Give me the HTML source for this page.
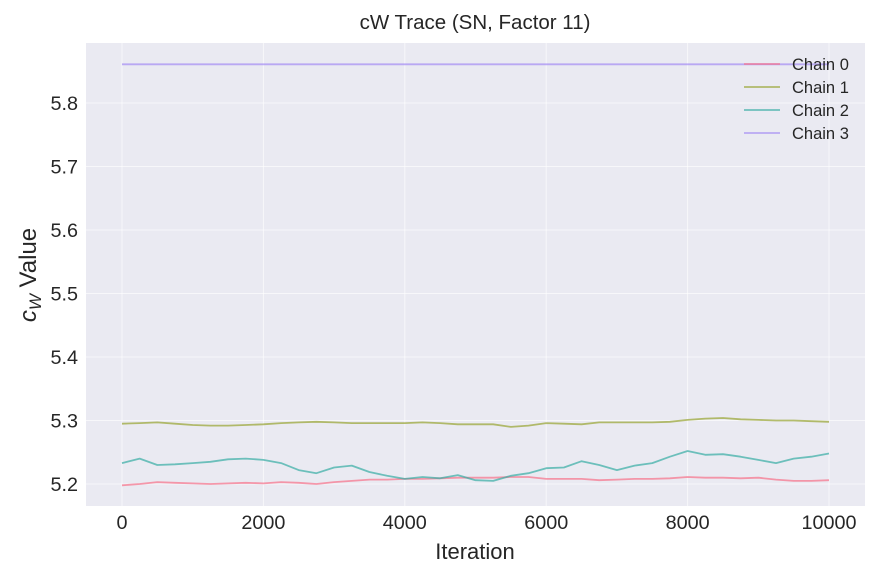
<!DOCTYPE html>
<html><head><meta charset="utf-8"><style>
body{margin:0;background:#fff;}
svg text{font-family:"Liberation Sans",sans-serif;fill:#262626;}
</style></head><body>
<svg id="chart" width="879" height="579" xmlns="http://www.w3.org/2000/svg">
<rect x="86" y="43" width="779" height="463" fill="#eaeaf2"/>
<g id="grid"></g>
<g id="series"></g>
<g id="ticks"></g>
<text x="475" y="29" text-anchor="middle" font-size="20.5">cW Trace (SN, Factor 11)</text>
<text x="475" y="559" text-anchor="middle" font-size="22">Iteration</text>
<text transform="translate(36,275) rotate(-90)" text-anchor="middle" font-size="24"><tspan font-style="italic">c</tspan><tspan font-style="italic" font-size="17" dy="5">W</tspan><tspan dy="-5"> Value</tspan></text>
<g id="legend"></g>
</svg>
<script>
const iterStep = 250;
const chain0 = [5.198,5.200,5.203,5.202,5.201,5.200,5.201,5.202,5.201,5.203,5.202,5.200,5.203,5.205,5.207,5.207,5.208,5.208,5.209,5.210,5.210,5.210,5.211,5.211,5.208,5.208,5.208,5.206,5.207,5.208,5.208,5.209,5.211,5.210,5.210,5.209,5.210,5.207,5.205,5.205,5.206];
const chain1 = [5.295,5.296,5.297,5.295,5.293,5.292,5.292,5.293,5.294,5.296,5.297,5.298,5.297,5.296,5.296,5.296,5.296,5.297,5.296,5.294,5.294,5.294,5.290,5.292,5.296,5.295,5.294,5.297,5.297,5.297,5.297,5.298,5.301,5.303,5.304,5.302,5.301,5.300,5.300,5.299,5.298];
const chain2 = [5.233,5.240,5.230,5.231,5.233,5.235,5.239,5.240,5.238,5.233,5.222,5.217,5.226,5.229,5.219,5.213,5.208,5.211,5.209,5.214,5.206,5.205,5.213,5.217,5.225,5.226,5.236,5.230,5.222,5.229,5.233,5.243,5.252,5.246,5.247,5.243,5.238,5.233,5.240,5.243,5.248];
const chain3 = [5.861,5.861,5.861,5.861,5.861,5.861,5.861,5.861,5.861,5.861,5.861,5.861,5.861,5.861,5.861,5.861,5.861,5.861,5.861,5.861,5.861,5.861,5.861,5.861,5.861,5.861,5.861,5.861,5.861,5.861,5.861,5.861,5.861,5.861,5.861,5.861,5.861,5.861,5.861,5.861,5.861];
const seriesNames = ["Chain 0","Chain 1","Chain 2","Chain 3"];
const xTicks = [0,2000,4000,6000,8000,10000];
const yTicks = [5.2,5.3,5.4,5.5,5.6,5.7,5.8];

const colors = ["#f77189","#97a431","#36ada4","#a48cf4"];
const NS = "http://www.w3.org/2000/svg";
const X0=86,X1=865,Y0=43,Y1=506, xmin=-509, xmax=10509, ymin=5.1654, ymax=5.8945;
const sx = v => X0 + (v - xmin) / (xmax - xmin) * (X1 - X0);
const sy = v => Y1 - (v - ymin) / (ymax - ymin) * (Y1 - Y0);
function mk(tag, attrs, parent){const e=document.createElementNS(NS,tag);for(const k in attrs)e.setAttribute(k,attrs[k]);parent.appendChild(e);return e;}
const grid=document.getElementById('grid'), ticks=document.getElementById('ticks'), series=document.getElementById('series'), legend=document.getElementById('legend');
xTicks.forEach(t=>{
  const l=mk('line',{x1:sx(t),x2:sx(t),y1:Y0,y2:Y1,stroke:'#fff','stroke-width':1,'stroke-opacity':0.6},grid);
  
  
  const tx=mk('text',{x:sx(t),y:529,'text-anchor':'middle','font-size':19.8},ticks);
  tx.textContent=t;
  
  
});
yTicks.forEach(t=>{
  const l=mk('line',{x1:X0,x2:X1,y1:sy(t),y2:sy(t),stroke:'#fff','stroke-width':1,'stroke-opacity':0.6},grid);
  
  
  const tx=mk('text',{x:78,y:sy(t)+7,'text-anchor':'end','font-size':19.8},ticks);
  tx.textContent=t.toFixed(1);
  
  
});
[chain0,chain1,chain2,chain3].forEach((d,i)=>{
  const pts=d.map((v,k)=>sx(k*iterStep).toFixed(1)+','+sy(v).toFixed(1)).join(' ');
  const p=mk('polyline',{points:pts,fill:'none',stroke:colors[i],'stroke-width':1.8,'stroke-opacity':0.7,'stroke-linejoin':'round'},series);
  
  
  const y=64+i*23;
  const ll=mk('line',{x1:744,x2:780,y1:y,y2:y,stroke:colors[i],'stroke-width':1.8,'stroke-opacity':0.7},legend);
  
  
  const lt=mk('text',{x:792,y:y+6,'font-size':16.5},legend);
  lt.textContent=seriesNames[i];
  
  
});
</script>
</body></html>
